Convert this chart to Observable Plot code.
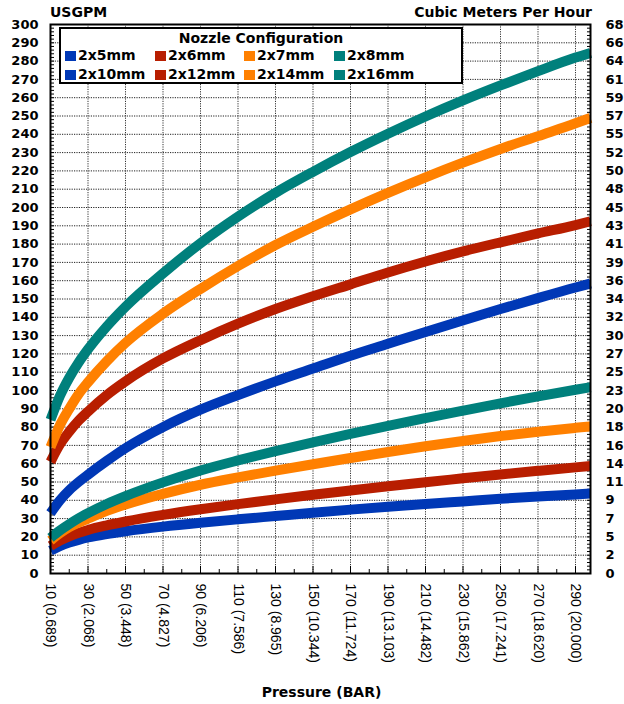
<!DOCTYPE html>
<html>
<head>
<meta charset="utf-8">
<script src="https://cdn.jsdelivr.net/npm/d3@7"></script>
<script src="https://cdn.jsdelivr.net/npm/@observablehq/plot@0.6"></script>
<style>
  body { margin: 0; background: #fff; }
  #wrap { position: relative; width: 624px; height: 704px; background: #fff; font-family: "DejaVu Sans", sans-serif; }
  #wrap svg { position: absolute; left: 0; top: 0; }
  .t { position: absolute; font-weight: bold; font-size: 14px; white-space: nowrap; color: #000; line-height: 17px; }
  #legend { position: absolute; left: 59px; top: 27px; width: 400px; height: 53px; border: 2px solid #000; background: #fff; }
  #legend .title { position: absolute; left: 0; width: 100%; top: 1px; text-align: center; font-weight: bold; font-size: 14px; line-height: 17px; }
  #legend .item { position: absolute; font-weight: bold; font-size: 14px; line-height: 17px; white-space: nowrap; }
  #legend .sw { display: inline-block; width: 11px; height: 10px; margin-right: 2px; vertical-align: -1px; }
</style>
</head>
<body>
<div id="wrap"></div>
<script>
// Pressure (psi) sample positions
const pressure = [10, 15, 20, 25, 30, 40, 50, 70, 90, 110, 130, 150, 170, 190, 210, 230, 250, 270, 290, 298];
// Flow (USGPM) per nozzle configuration
const q2x5  = [12.5, 15, 16.9, 18.4, 19.7, 21.6, 23.1, 25.6, 27.7, 29.6, 31.4, 33.2, 34.9, 36.5, 38, 39.4, 40.8, 42.1, 43.2, 43.7];
const q2x6  = [15, 18, 20.3, 22.2, 23.8, 26.3, 28.4, 32, 35.1, 37.9, 40.5, 43, 45.4, 47.7, 49.9, 52, 54.1, 56.1, 58, 58.7];
const q2x7  = [18, 22, 25.3, 27.8, 30, 34.2, 37.7, 43.5, 48.5, 52.5, 56.2, 59.7, 63.1, 66.4, 69.5, 72.4, 75.1, 77.5, 79.6, 80.4];
const q2x8  = [19.5, 23.5, 27, 30.2, 33, 38, 42.3, 49.8, 56.3, 61.8, 66.9, 71.7, 76.3, 80.7, 84.9, 89, 93, 96.8, 100.4, 101.8];
const q2x10 = [33, 40, 45.5, 50, 54, 61.5, 68.5, 80, 89.5, 97.5, 105, 112, 119, 125.5, 132, 138.3, 144.5, 150.5, 156.3, 158.5];
const q2x12 = [61, 70.5, 77.5, 83.5, 88.5, 97.5, 105, 117.5, 127.5, 136.5, 144.5, 151.5, 158, 164.5, 170.5, 176, 181, 185.8, 190.4, 192.5];
const q2x14 = [69, 81, 90, 98, 104.5, 116, 126, 142, 155.5, 168, 179.5, 189.5, 199, 208, 216.5, 224.5, 232, 239, 246, 249];
const q2x16 = [84, 97, 107, 115.3, 122.5, 135, 145.8, 164, 180.5, 195, 208, 219.5, 230.3, 240.3, 249.7, 258.5, 266.7, 274.5, 281.9, 284.5];

const seriesNames = ["2x5mm", "2x6mm", "2x7mm", "2x8mm", "2x10mm", "2x12mm", "2x14mm", "2x16mm"];
const seriesValues = [q2x5, q2x6, q2x7, q2x8, q2x10, q2x12, q2x14, q2x16];
const seriesColors = ["#0038b6", "#b81e00", "#ff8000", "#00807c", "#0038b6", "#b81e00", "#ff8000", "#00807c"];

// Axis ticks and labels
const gpmTicks = [0,10,20,30,40,50,60,70,80,90,100,110,120,130,140,150,160,170,180,190,200,210,220,230,240,250,260,270,280,290,300];
const cmhLabels = ["0","2","5","7","9","11","14","16","18","20","23","25","27","30","32","34","36","39","41","43","45","48","50","52","55","57","59","61","64","66","68"];
const pressureTicks = [10, 30, 50, 70, 90, 110, 130, 150, 170, 190, 210, 230, 250, 270, 290];
const pressureLabels = ["10 (0.689)","30 (2.068)","50 (3.448)","70 (4.827)","90 (6.206)","110 (7.586)","130 (8.965)","150 (10.344)","170 (11.724)","190 (13.103)","210 (14.482)","230 (15.862)","250 (17.241)","270 (18.620)","290 (20.000)"];
const pressureMinorTicks = [20, 40, 60, 80, 100, 120, 140, 160, 180, 200, 220, 240, 260, 280];
const gpmMinorTicks = d3.range(0, 301, 2);

const leftTitle = "USGPM";
const rightTitle = "Cubic Meters Per Hour";
const xTitle = "Pressure (BAR)";
const legendTitle = "Nozzle Configuration";

// Build long table
const rows = [];
seriesNames.forEach((s, k) => {
  pressure.forEach((p, i) => rows.push({p, q: seriesValues[k][i], s}));
});
const cmhMap = new Map(gpmTicks.map((v, i) => [v, cmhLabels[i]]));
const pLabelMap = new Map(pressureTicks.map((v, i) => [v, pressureLabels[i]]));

const bold = {fontFamily: "DejaVu Sans", fontWeight: "bold", fontSize: 13, fill: "#000"};

const chart = Plot.plot({
  width: 624,
  height: 704,
  marginLeft: 50,
  marginRight: 34,
  marginTop: 24,
  marginBottom: 131,
  style: {background: "transparent", color: "#000", overflow: "visible"},
  x: {domain: [10, 298], label: null},
  y: {domain: [0, 300], label: null},
  color: {domain: seriesNames.slice(), range: seriesColors},
  marks: [
    Plot.gridY(gpmTicks, {stroke: "#222", strokeOpacity: 1, strokeDasharray: "1.2,1.2", strokeWidth: 1}),
    Plot.gridX(pressureTicks, {stroke: "#333", strokeOpacity: 1, strokeDasharray: "1.2,1.2", strokeWidth: 1}),
    // inner minor/major ticks
    Plot.axisY(gpmMinorTicks, {anchor: "left", tickSize: -4, tickFormat: () => "", stroke: "#000"}),
    Plot.axisY(gpmMinorTicks, {anchor: "right", tickSize: -4, tickFormat: () => "", stroke: "#000"}),
    Plot.axisX(pressureMinorTicks, {anchor: "bottom", tickSize: -4, tickFormat: () => "", stroke: "#000"}),
    Plot.axisX(pressureTicks, {anchor: "bottom", tickSize: -7, tickFormat: () => "", stroke: "#000"}),
    // labelled axes
    Plot.axisY(gpmTicks, {anchor: "left", tickSize: 0, tickPadding: 12, tickFormat: d => String(d), ...bold}),
    Plot.axisY(gpmTicks, {anchor: "right", tickSize: 0, tickPadding: 15, tickFormat: d => cmhMap.get(d), ...bold}),
    Plot.axisX(pressureTicks, {anchor: "bottom", tickSize: 0, tickPadding: 10, tickRotate: 90,
      tickFormat: d => pLabelMap.get(d), fontFamily: "Liberation Sans", fontSize: 14, fill: "#000"}),
    Plot.line(rows, {x: "p", y: "q", z: "s", stroke: "s", strokeWidth: 10, curve: "monotone-x",
      strokeLinecap: "butt", strokeLinejoin: "round"}),
    Plot.frame({stroke: "#000", strokeWidth: 2})
  ]
});

const wrap = document.getElementById("wrap");
wrap.appendChild(chart);

function addText(txt, css) {
  const d = document.createElement("div");
  d.className = "t";
  d.textContent = txt;
  Object.assign(d.style, css);
  wrap.appendChild(d);
  return d;
}
addText(leftTitle, {left: "50px", top: "4px"});
addText(rightTitle, {right: "32px", top: "4px"});
addText(xTitle, {left: "0px", width: "643px", textAlign: "center", top: "684px"});

// Legend box overlaid in plot area
const lg = document.createElement("div");
lg.id = "legend";
const ttl = document.createElement("div");
ttl.className = "title";
ttl.textContent = legendTitle;
lg.appendChild(ttl);
const colX = [4, 94, 183, 273];
const rowY = [18, 37];
seriesNames.forEach((s, k) => {
  const it = document.createElement("div");
  it.className = "item";
  it.style.left = colX[k % 4] + "px";
  it.style.top = rowY[Math.floor(k / 4)] + "px";
  const sw = document.createElement("span");
  sw.className = "sw";
  sw.style.background = seriesColors[k];
  it.appendChild(sw);
  it.appendChild(document.createTextNode(s));
  lg.appendChild(it);
});
wrap.appendChild(lg);
</script>
</body>
</html>
